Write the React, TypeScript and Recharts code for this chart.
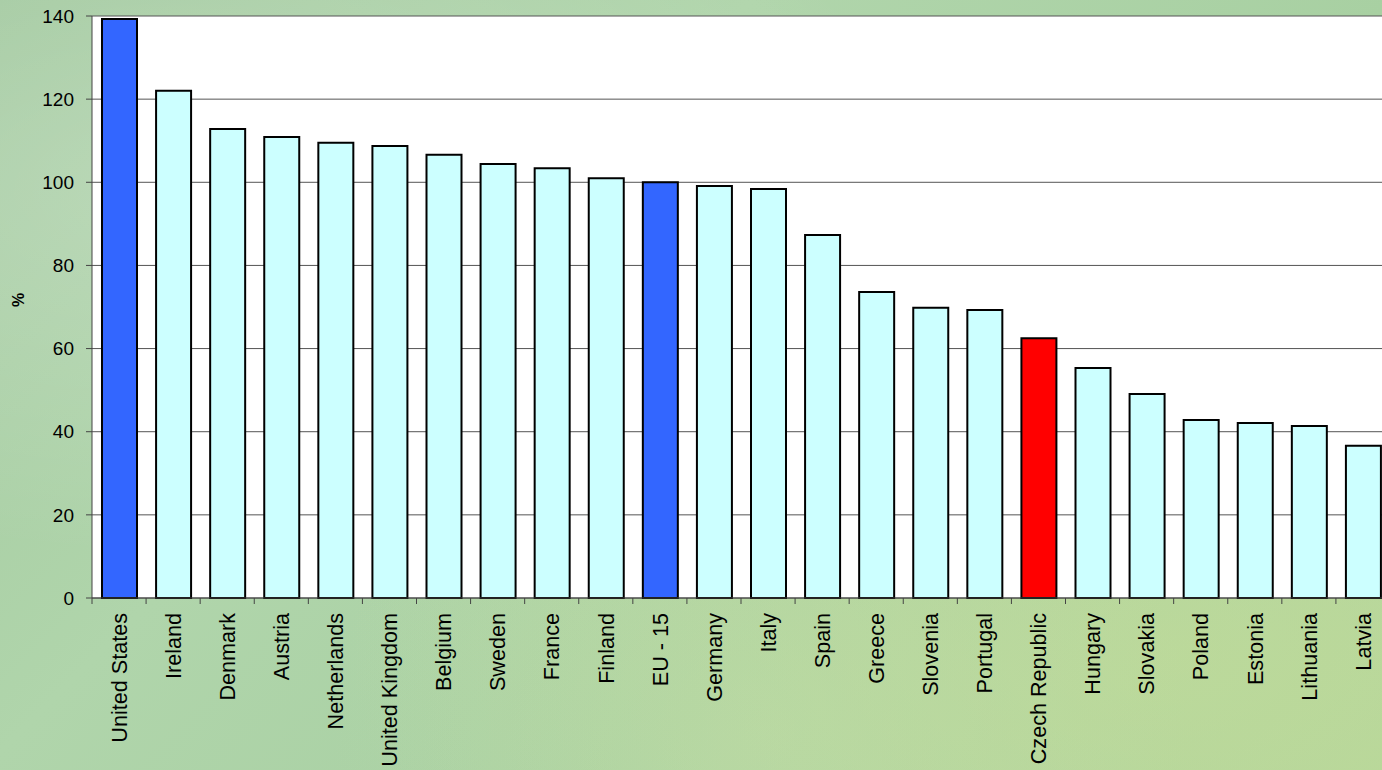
import { BarChart, Bar, XAxis, YAxis, CartesianGrid, Cell } from "recharts";

const countries = [
  "United States", "Ireland", "Denmark", "Austria", "Netherlands", "United Kingdom",
  "Belgium", "Sweden", "France", "Finland", "EU - 15", "Germany", "Italy", "Spain",
  "Greece", "Slovenia", "Portugal", "Czech Republic", "Hungary", "Slovakia",
  "Poland", "Estonia", "Lithuania", "Latvia",
];

const values = [
  139.3, 122.0, 112.8, 110.9, 109.5, 108.7, 106.6, 104.4, 103.4, 101.0, 100.0, 99.1,
  98.4, 87.3, 73.6, 69.8, 69.3, 62.5, 55.3, 49.1, 42.8, 42.1, 41.4, 36.6,
];

const yTicks = [0, 20, 40, 60, 80, 100, 120, 140];

const HIGHLIGHT: Record<string, string> = {
  "United States": "#3366FF",
  "EU - 15": "#3366FF",
  "Czech Republic": "#FF0000",
};
const BASE_COLOR = "#CCFFFF";

const CHART_W = 1400;
const CHART_H = 770;
const MARGIN = { top: 16, right: 10, left: 32, bottom: 0 };
const Y_AXIS_W = 60;
const BAND = (CHART_W - MARGIN.left - MARGIN.right - Y_AXIS_W) / countries.length;
const FONT = "'Liberation Sans', Arial, Helvetica, sans-serif";

const data = countries.map((name, i) => ({ name, value: values[i] }));

function CountryTick(props: any) {
  const { x, y, payload } = props;
  const left = x - BAND / 2;
  return (
    <g>
      <line x1={left} y1={y} x2={left} y2={y + 6} stroke="#444" strokeWidth={1} />
      <text
        transform={`translate(${x},${y + 15}) rotate(-90)`}
        textAnchor="end"
        dy="0.36em"
        fontSize={21.6}
        fontFamily={FONT}
        fill="#000"
      >
        {payload.value}
      </text>
    </g>
  );
}

export default function App() {
  return (
    <div
      style={{
        position: "fixed",
        left: 0,
        top: 0,
        width: 1382,
        height: 770,
        overflow: "hidden",
        background:
          "radial-gradient(ellipse at 15% 25%, rgba(255,255,255,0.22), transparent 45%)," +
          "radial-gradient(ellipse at 85% 85%, rgba(205,225,150,0.45), transparent 50%)," +
          "radial-gradient(ellipse at 55% 95%, rgba(190,220,170,0.5), transparent 40%)," +
          "linear-gradient(135deg, #a2c99f 0%, #b0d5ab 35%, #a8d0a2 65%, #b1d49c 100%)",
      }}
    >
      <BarChart
        width={CHART_W}
        height={CHART_H}
        data={data}
        margin={MARGIN}
        barSize={35}
        style={{ fontFamily: FONT }}
      >
        <CartesianGrid vertical={false} stroke="#555" strokeWidth={1} fill="#ffffff" fillOpacity={1} />
        <XAxis
          dataKey="name"
          interval={0}
          tickLine={false}
          tickSize={0}
          tickMargin={0}
          height={CHART_H - 598}
          axisLine={{ stroke: "#444" }}
          tick={<CountryTick />}
        />
        <YAxis
          width={Y_AXIS_W}
          domain={[0, 140]}
          ticks={yTicks}
          interval={0}
          tickSize={6}
          tickMargin={12}
          axisLine={{ stroke: "#444" }}
          tickLine={{ stroke: "#444" }}
          tick={{ fontSize: 19, fill: "#000", fontFamily: FONT }}
          label={{
            value: "%",
            angle: -90,
            position: "insideLeft",
            offset: -14,
            style: { fontSize: 16, fontWeight: "bold", fill: "#000", fontFamily: FONT },
          }}
        />
        <Bar dataKey="value" stroke="#000" strokeWidth={2} isAnimationActive={false}>
          {data.map((d) => (
            <Cell key={d.name} fill={HIGHLIGHT[d.name] ?? BASE_COLOR} />
          ))}
        </Bar>
      </BarChart>
    </div>
  );
}
